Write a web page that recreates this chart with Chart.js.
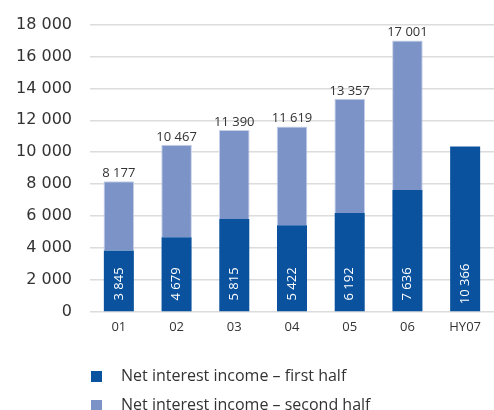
<!DOCTYPE html>
<html>
<head>
<meta charset="utf-8">
<script src="https://cdn.jsdelivr.net/npm/chart.js@4/dist/chart.umd.min.js"></script>
<style>
  html, body { margin: 0; padding: 0; background: #ffffff; }
  #wrap { width: 494px; height: 410px; }
</style>
</head>
<body>
<div id="wrap"><canvas id="chart" width="494" height="410"></canvas></div>
<script>
// Net interest income by year, split into first and second half
const categories = ['01', '02', '03', '04', '05', '06', 'HY07'];
const firstHalf = [3845, 4679, 5815, 5422, 6192, 7636, 10366];
const fullYear = [8177, 10467, 11390, 11619, 13357, 17001, null];
const secondHalf = [4332, 5788, 5575, 6197, 7165, 9365, null];
const seriesNames = ['Net interest income \u2013 first half', 'Net interest income \u2013 second half'];
const yTicks = [0, 2000, 4000, 6000, 8000, 10000, 12000, 14000, 16000, 18000];

const DARK = '#0a529d';
const LIGHT = '#7b93c6';
const TEXT = '#333333';

// "18 000" style thousands grouping
const fmt = v => String(v).replace(/\B(?=(\d{3})+(?!\d))/g, ' ');

// Value labels: rotated first-half values inside the dark bars, full-year totals on top
const valueLabels = {
  id: 'valueLabels',
  afterDatasetsDraw(chart) {
    const ctx = chart.ctx;
    const y0 = chart.scales.y.getPixelForValue(0);
    const meta0 = chart.getDatasetMeta(0);
    const meta1 = chart.getDatasetMeta(1);
    ctx.save();
    ctx.font = '13px "Open Sans"';
    meta0.data.forEach((bar, i) => {
      ctx.save();
      ctx.translate(bar.x, y0 - 28);
      ctx.rotate(-Math.PI / 2);
      ctx.fillStyle = '#ffffff';
      ctx.textAlign = 'center';
      ctx.textBaseline = 'middle';
      ctx.fillText(fmt(firstHalf[i]), 0, 0);
      ctx.restore();
    });
    ctx.fillStyle = TEXT;
    ctx.textAlign = 'center';
    ctx.textBaseline = 'alphabetic';
    meta1.data.forEach((bar, i) => {
      if (fullYear[i] == null) return;
      ctx.fillText(fmt(fullYear[i]), bar.x, bar.y - 4);
    });
    ctx.restore();
  }
};

// Stacked legend rows under the axis, aligned with the plot's left edge
const legendRows = {
  id: 'legendRows',
  afterDraw(chart) {
    const ctx = chart.ctx;
    const left = chart.chartArea.left;
    const rows = [chart.height - 33.5, chart.height - 4.5];
    ctx.save();
    ctx.font = '16px "Open Sans"';
    ctx.textBaseline = 'middle';
    ctx.textAlign = 'left';
    chart.data.datasets.forEach((ds, i) => {
      const cy = rows[i];
      ctx.fillStyle = ds.backgroundColor;
      ctx.fillRect(left + 1, cy - 5.5, 11, 11);
      ctx.fillStyle = TEXT;
      ctx.fillText(ds.label, left + 31, cy);
    });
    ctx.restore();
  }
};

new Chart(document.getElementById('chart'), {
  type: 'bar',
  data: {
    labels: categories,
    datasets: [
      {
        label: seriesNames[0],
        data: firstHalf,
        backgroundColor: DARK,
        borderWidth: 0,
        barPercentage: 0.52,
        categoryPercentage: 1
      },
      {
        label: seriesNames[1],
        data: secondHalf,
        backgroundColor: LIGHT,
        borderColor: '#c6cfe8',
        borderWidth: { top: 1, left: 1, right: 1, bottom: 0 },
        borderSkipped: 'bottom',
        barPercentage: 0.53,
        categoryPercentage: 1
      }
    ]
  },
  options: {
    responsive: false,
    animation: false,
    devicePixelRatio: 1,
    layout: { padding: { top: 24.5, right: 0, bottom: 66.5, left: 0 } },
    plugins: {
      legend: { display: false },
      tooltip: { enabled: false }
    },
    scales: {
      x: {
        stacked: true,
        grid: { display: false, drawTicks: false },
        border: { display: false },
        ticks: {
          color: TEXT,
          font: { family: '"Open Sans"', size: 13 },
          padding: 8
        }
      },
      y: {
        stacked: true,
        min: 0,
        max: 18000,
        afterFit(scale) {
          scale.width = 90;
          scale.paddingTop = 0;
          scale.paddingBottom = 0;
        },
        afterBuildTicks(scale) { scale.ticks = yTicks.map(v => ({ value: v })); },
        grid: { color: '#dcdcdc', lineWidth: 1.5, drawTicks: false },
        border: { display: false },
        ticks: {
          color: TEXT,
          font: { family: '"DejaVu Sans"', size: 16 },
          padding: 18,
          callback: v => fmt(v)
        }
      }
    }
  },
  plugins: [valueLabels, legendRows]
});
</script>
</body>
</html>
